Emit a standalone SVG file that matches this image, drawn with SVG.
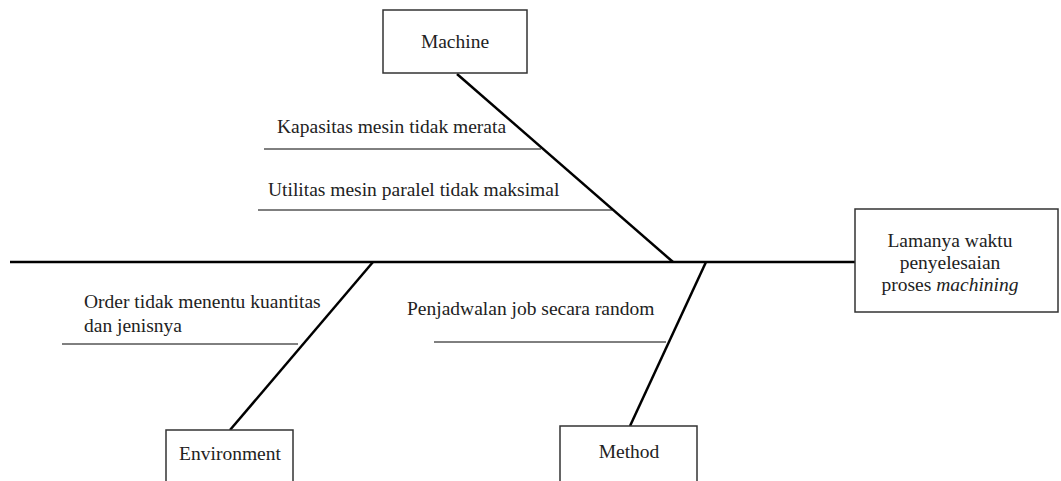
<svg xmlns="http://www.w3.org/2000/svg" width="1061" height="481" viewBox="0 0 1061 481">
<style>
.box{fill:#fff;stroke:#333;stroke-width:1.5}
.t{font-family:"Liberation Serif","Times New Roman",serif;font-size:19.5px;fill:#222}
.c{text-anchor:middle}
.bone{stroke:#000;stroke-width:2.5;fill:none}
.sub{stroke:#000;stroke-width:1;fill:none}
</style>
<rect width="1061" height="481" fill="#fff"/>
<g id="connectors">
<line class="bone" x1="10" y1="262" x2="855" y2="262"/>
<line class="bone" x1="457" y1="74" x2="673" y2="262"/>
<line class="bone" x1="373" y1="262" x2="230" y2="430"/>
<line class="bone" x1="706" y1="262" x2="630" y2="426"/>
<line class="sub" x1="264" y1="149" x2="541" y2="149"/>
<line class="sub" x1="258" y1="210" x2="612" y2="210"/>
<line class="sub" x1="62" y1="344" x2="298" y2="344"/>
<line class="sub" x1="434" y1="342" x2="666" y2="342"/>
</g>
<g id="machine">
<rect class="box" x="383" y="10" width="144" height="63"/>
<text class="t c" x="455" y="48">Machine</text>
</g>
<g id="effect">
<rect class="box" x="855" y="209" width="203" height="103"/>
<text class="t c" x="950" y="247">Lamanya waktu</text>
<text class="t c" x="950" y="269">penyelesaian</text>
<text class="t c" x="950" y="291">proses <tspan font-style="italic">machining</tspan></text>
</g>
<g id="environment">
<rect class="box" x="166" y="430" width="127" height="60"/>
<text class="t c" x="230" y="460">Environment</text>
</g>
<g id="method">
<rect class="box" x="560" y="426" width="137" height="64"/>
<text class="t c" x="629" y="458">Method</text>
</g>
<g id="cause-kapasitas">
<text class="t" x="277" y="133">Kapasitas mesin tidak merata</text>
</g>
<g id="cause-utilitas">
<text class="t" x="268" y="196">Utilitas mesin paralel tidak maksimal</text>
</g>
<g id="cause-order">
<text class="t" x="84" y="308">Order tidak menentu kuantitas</text>
<text class="t" x="84" y="332">dan jenisnya</text>
</g>
<g id="cause-penjadwalan">
<text class="t" x="407" y="315">Penjadwalan job secara random</text>
</g>
</svg>
